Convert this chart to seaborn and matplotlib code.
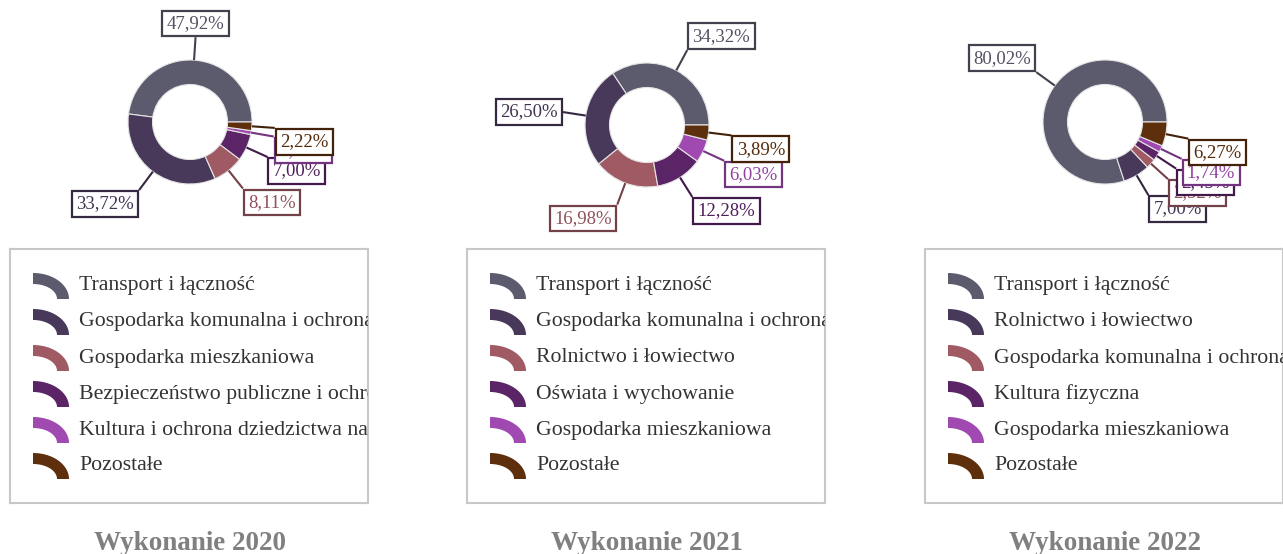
import numpy as np
import matplotlib
matplotlib.use("Agg")
import matplotlib.pyplot as plt
import matplotlib.colors as mcolors
from matplotlib.patches import Polygon
import seaborn as sns

# ---- data -------------------------------------------------------------
titles = ["Wykonanie 2020", "Wykonanie 2021", "Wykonanie 2022"]

cats_2020 = [
    "Transport i łączność",
    "Gospodarka komunalna i ochrona środowiska",
    "Gospodarka mieszkaniowa",
    "Bezpieczeństwo publiczne i ochrona przeciwpożarowa",
    "Kultura i ochrona dziedzictwa narodowego",
    "Pozostałe",
]
vals_2020 = [47.92, 33.72, 8.11, 7.00, 1.03, 2.22]

cats_2021 = [
    "Transport i łączność",
    "Gospodarka komunalna i ochrona środowiska",
    "Rolnictwo i łowiectwo",
    "Oświata i wychowanie",
    "Gospodarka mieszkaniowa",
    "Pozostałe",
]
vals_2021 = [34.32, 26.50, 16.98, 12.28, 6.03, 3.89]

cats_2022 = [
    "Transport i łączność",
    "Rolnictwo i łowiectwo",
    "Gospodarka komunalna i ochrona środowiska",
    "Kultura fizyczna",
    "Gospodarka mieszkaniowa",
    "Pozostałe",
]
vals_2022 = [80.02, 7.00, 2.52, 2.45, 1.74, 6.27]

slice_colors = ["#5c5b6e", "#48395a", "#a05a64", "#5a2466", "#a049b0", "#5e2f0c"]

# ---- style ------------------------------------------------------------
sns.set_theme(style="white")
plt.rcParams["font.family"] = ["Liberation Serif", "DejaVu Serif"]
palette = sns.color_palette(slice_colors)

W, H = 1283, 554
fig = plt.figure(figsize=(W / 100, H / 100), dpi=100)
fig.patch.set_facecolor("white")

# overlay axes in pixel units (y upwards)
ax = fig.add_axes([0, 0, 1, 1])

centers_x = [190, 647, 1105]
centers_y = [122, 125, 122]        # measured from the top edge
R_OUT, R_IN = 62, 37.5
LABEL_R = 85
LABEL_FS = 13.5                     # pt
LABEL_PAD = 0.23
off = LABEL_FS * LABEL_PAD * 100 / 72 + 1.0


def shade(c, f):
    r, g, b = mcolors.to_rgb(c)
    return (r * f, g * f, b * f)


def fmt(v):
    return f"{v:.2f}".replace(".", ",") + "%"


panels = [(cats_2020, vals_2020), (cats_2021, vals_2021), (cats_2022, vals_2022)]

for p, (cats, vals) in enumerate(panels):
    cx, cy = centers_x[p], H - centers_y[p]
    wedges, _ = ax.pie(
        vals, colors=palette, radius=R_OUT, center=(cx, cy),
        startangle=0, counterclock=True,
        wedgeprops=dict(width=R_OUT - R_IN, edgecolor="#e4e4e4", linewidth=0.8),
    )
    for j, (w, v, col) in enumerate(zip(wedges, vals, palette)):
        th = np.deg2rad((w.theta1 + w.theta2) / 2)
        c, s = np.cos(th), np.sin(th)
        x0, y0 = cx + R_OUT * c, cy + R_OUT * s
        xa, ya = cx + LABEL_R * c, cy + LABEL_R * s
        edge = shade(col, 0.72)
        ax.plot([x0, xa], [y0, ya], color=edge, lw=1.5, zorder=3,
                solid_capstyle="butt")
        if c > 0.2:
            ha, xt = "left", xa + off
        elif c < -0.2:
            ha, xt = "right", xa - off
        else:
            ha, xt = "center", xa
        if s < 0:
            va, yt = "top", ya - off
        elif s >= 0.4:
            va, yt = "bottom", ya + off
        else:
            va, yt = "center", ya
        ax.text(xt, yt, fmt(v), ha=ha, va=va, fontsize=LABEL_FS,
                color=shade(col, 0.9), zorder=4 + j,
                bbox=dict(boxstyle=f"square,pad={LABEL_PAD}", fc="white",
                          ec=edge, lw=1.6))

ax.set_xlim(0, W)
ax.set_ylim(0, H)
ax.set_aspect("auto")
ax.axis("off")

# ---- legends ----------------------------------------------------------
LEG_X = [10, 467, 925]
LEG_TOP, LEG_W, LEG_H = 249, 358, 254
ROW0, ROW_STEP = 37, 36
ICON_X, ICON_RX, ICON_RY, ICON_T = 23, 36, 26, 11
TEXT_X = 69

t = np.linspace(0, np.pi / 2, 40)
for p, (cats, vals) in enumerate(panels):
    lax = fig.add_axes([LEG_X[p] / W, (H - LEG_TOP - LEG_H) / H, LEG_W / W, LEG_H / H])
    lax.set_xlim(0, LEG_W)
    lax.set_ylim(LEG_H, 0)
    lax.set_xticks([])
    lax.set_yticks([])
    lax.patch.set_alpha(0)
    for sp in lax.spines.values():
        sp.set_color("#c8c8c8")
        sp.set_linewidth(1.5)
    for i, (name, col) in enumerate(zip(cats, palette)):
        yc = ROW0 + ROW_STEP * i
        bx, by = ICON_X, yc + 13
        outer = np.column_stack([bx + ICON_RX * np.cos(t), by - ICON_RY * np.sin(t)])
        inner = np.column_stack([bx + (ICON_RX - ICON_T - 1) * np.cos(t[::-1]),
                                 by - (ICON_RY - ICON_T) * np.sin(t[::-1])])
        lax.add_patch(Polygon(np.vstack([outer, inner]), closed=True,
                              fc=col, ec="none"))
        lax.text(TEXT_X, yc, name, ha="left", va="center", fontsize=15.7,
                 color="#333333", clip_on=True)

    fig.text(centers_x[p] / W, (H - 550) / H, titles[p], ha="center",
             va="baseline", fontsize=19.5, fontweight="bold", color="#808080")

fig.savefig("out.png", dpi=100, facecolor="white")
